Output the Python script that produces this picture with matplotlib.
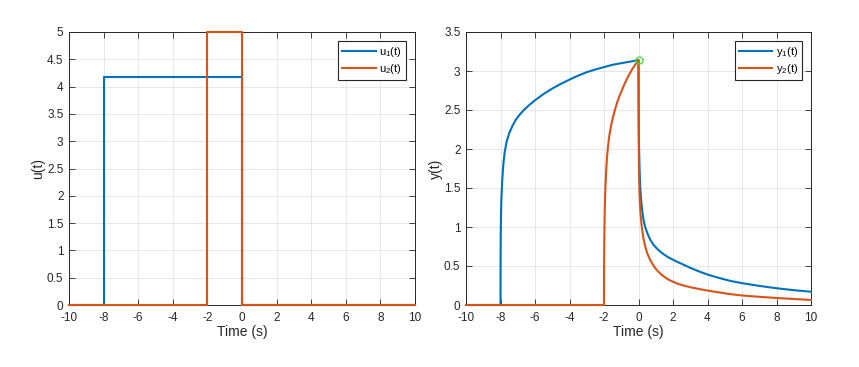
import matplotlib
matplotlib.use('Agg')
import matplotlib.pyplot as plt
from matplotlib.ticker import FormatStrFormatter, MultipleLocator

plt.rcParams['font.family'] = ['Liberation Sans', 'DejaVu Sans']
plt.rcParams['mathtext.fontset'] = 'custom'
plt.rcParams['mathtext.rm'] = 'Liberation Sans'
plt.rcParams['mathtext.it'] = 'Liberation Sans:italic'
plt.rcParams['axes.unicode_minus'] = False

# ---------------- data ----------------
# inputs (step signals)
t_u = [-10, -8, -8, 0, 0, 10]
u1 = [0, 0, 4.17, 4.17, 0, 0]
t_u2 = [-10, -2, -2, 0, 0, 10]
u2 = [0, 0, 5.0, 5.0, 0, 0]

# outputs
t_y1 = [-10, -8, -7.998, -7.99, -7.975, -7.95, -7.9, -7.83, -7.75, -7.65, -7.5,
        -7.3, -7.1, -6.85, -6.6, -6.3, -6.0, -5.5, -5.0, -4.5, -4.0, -3.5, -3.0,
        -2.5, -2.0, -1.5, -1.0, -0.5, 0.0,
        0.005, 0.015, 0.03, 0.06, 0.1, 0.15, 0.22, 0.3, 0.4, 0.55, 0.7, 0.86, 1.0,
        1.2, 1.43, 1.7, 2.0, 2.3, 2.6, 3.0, 3.4, 4.0, 4.7, 5.3, 6.0, 7.0, 8.0, 9.0,
        10.0]
y1 = [0, 0, 0.5, 0.85, 1.1, 1.35, 1.6, 1.82, 1.97, 2.09, 2.2,
      2.3, 2.38, 2.45, 2.51, 2.57, 2.625, 2.705, 2.775, 2.835, 2.89, 2.94, 2.985,
      3.02, 3.05, 3.08, 3.10, 3.12, 3.14,
      2.75, 2.35, 2.05, 1.75, 1.52, 1.35, 1.2, 1.08, 0.99, 0.9, 0.83, 0.775, 0.74,
      0.695, 0.655, 0.615, 0.58, 0.548, 0.518, 0.477, 0.44, 0.39, 0.345, 0.31,
      0.28, 0.245, 0.215, 0.19, 0.17]

t_y2 = [-10, -2, -1.995, -1.985, -1.97, -1.95, -1.92, -1.88, -1.83, -1.77, -1.7,
        -1.6, -1.5, -1.38, -1.25, -1.1, -0.95, -0.8, -0.6, -0.4, -0.2, 0.0,
        0.005, 0.015, 0.03, 0.05, 0.08, 0.12, 0.19, 0.29, 0.38, 0.48, 0.58, 0.67,
        0.8, 0.96, 1.2, 1.44, 1.7, 2.0, 2.3, 2.6, 3.0, 3.4, 4.0, 4.7, 5.3, 6.0,
        7.0, 8.0, 9.0, 10.0]
y2 = [0, 0, 0.5, 0.8, 1.05, 1.3, 1.5, 1.7, 1.88, 2.03, 2.16,
      2.29, 2.39, 2.49, 2.59, 2.68, 2.76, 2.84, 2.93, 3.01, 3.08, 3.14,
      2.6, 2.05, 1.7, 1.48, 1.3, 1.16, 1.0, 0.85, 0.76, 0.68, 0.625, 0.58,
      0.53, 0.475, 0.415, 0.37, 0.33, 0.298, 0.27, 0.25, 0.228, 0.21, 0.185,
      0.16, 0.14, 0.122, 0.105, 0.09, 0.077, 0.065]

peak_t = [0.0]
peak_y = [3.14]

BLUE = '#0072BD'
ORANGE = '#D95319'
DARK = '#262626'

fig = plt.figure(figsize=(8.59, 3.67), dpi=100)
ax1 = fig.add_axes([69 / 859, 62 / 367, 346 / 859, 273 / 367])
ax2 = fig.add_axes([466 / 859, 62 / 367, 345 / 859, 273 / 367])


def style(ax, ymax):
    ax.set_xlim(-10, 10)
    ax.set_ylim(0, ymax)
    ax.xaxis.set_major_locator(MultipleLocator(2))
    ax.yaxis.set_major_locator(MultipleLocator(0.5))
    ax.yaxis.set_major_formatter(FormatStrFormatter('%g'))
    ax.xaxis.set_major_formatter(FormatStrFormatter('%g'))
    ax.tick_params(direction='in', top=True, right=True, length=4, width=0.6,
                   colors=DARK, labelsize=8.5)
    ax.tick_params(axis='x', pad=5)
    ax.tick_params(axis='y', pad=4)
    ax.grid(True, color='#e3e3e3', linewidth=0.6)
    ax.set_axisbelow(True)
    for s in ax.spines.values():
        s.set_color(DARK)
        s.set_linewidth(0.7)
    ax.set_xlabel('Time (s)', fontsize=10, color=DARK, labelpad=1)


ax1.plot(t_u, u1, color=BLUE, lw=1.5, label=r'u$_1$(t)', clip_on=False, zorder=3)
ax1.plot(t_u2, u2, color=ORANGE, lw=1.5, label=r'u$_2$(t)', clip_on=False, zorder=3)
style(ax1, 5)
ax1.set_ylabel('u(t)', fontsize=10, color=DARK, labelpad=1)

ax2.plot(t_y1, y1, color=BLUE, lw=1.5, label=r'y$_1$(t)', clip_on=False, zorder=3)
ax2.plot(t_y2, y2, color=ORANGE, lw=1.5, label=r'y$_2$(t)', clip_on=False, zorder=3)
ax2.plot(peak_t, peak_y, 'o', mfc='none', mec='#33e033', ms=5, mew=0.9,
         clip_on=False, zorder=4)
style(ax2, 3.5)
ax2.set_ylabel('y(t)', fontsize=10, color=DARK, labelpad=1)

for ax in (ax1, ax2):
    leg = ax.legend(loc='upper right', fontsize=8, fancybox=False, framealpha=1,
                    edgecolor=DARK, handlelength=3.0, borderaxespad=0.85,
                    handletextpad=0.3, borderpad=0.35, labelspacing=0.25)
    leg.get_frame().set_linewidth(0.8)
    leg.set_zorder(5)

fig.savefig('out.png', dpi=100)
